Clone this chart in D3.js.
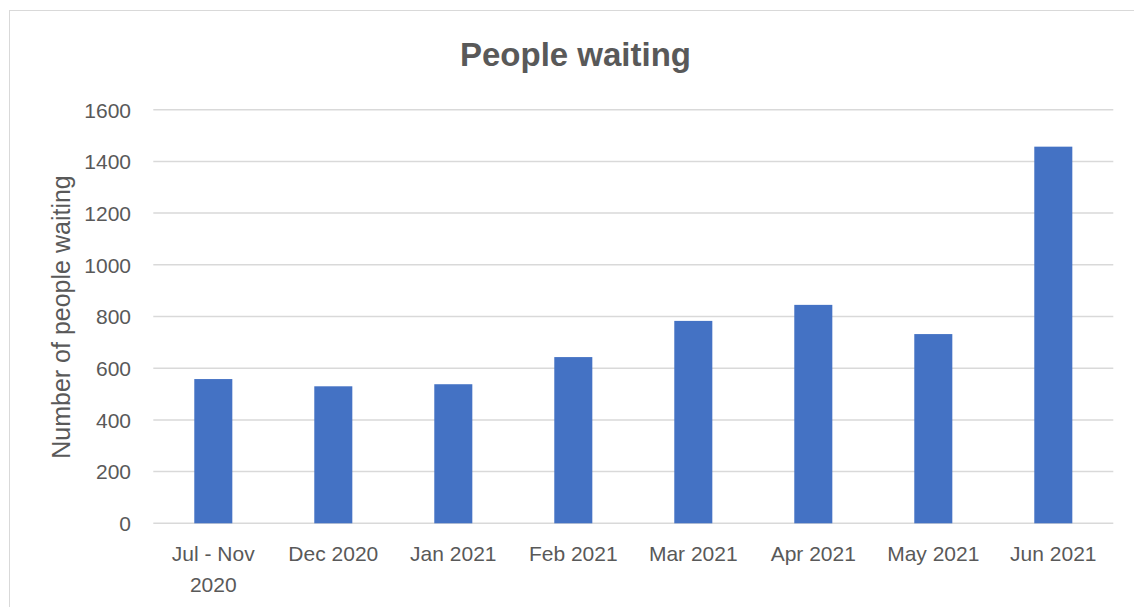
<!DOCTYPE html>
<html>
<head>
<meta charset="utf-8">
<script src="https://cdn.jsdelivr.net/npm/d3@7"></script>
<style>
  html, body { margin: 0; padding: 0; background: #ffffff; }
  svg { display: block; }
</style>
</head>
<body>
<svg id="chart" width="1134" height="607"></svg>
<script>
// Monthly counts of people on the waiting list
const categories = [["Jul - Nov", "2020"], ["Dec 2020"], ["Jan 2021"], ["Feb 2021"],
                    ["Mar 2021"], ["Apr 2021"], ["May 2021"], ["Jun 2021"]];
const values = [558, 530, 538, 643, 783, 845, 732, 1457];
const yTicks = [0, 200, 400, 600, 800, 1000, 1200, 1400, 1600];
const titleText = "People waiting";
const yAxisTitle = "Number of people waiting";

const plot = { left: 153.3, right: 1113.3, top: 109.7, bottom: 523.3 };
const textColor = "#595959";
const gridColor = "#d9d9d9";
const barColor = "#4472C4";
const font = "'Liberation Sans', Arial, sans-serif";

const svg = d3.select("#chart");

// chart frame
svg.append("rect")
  .attr("x", 9.5).attr("y", 10.5)
  .attr("width", 1140).attr("height", 640)
  .attr("fill", "#ffffff")
  .attr("stroke", gridColor).attr("stroke-width", 1);

const x = d3.scaleBand()
  .domain(categories.map((d, i) => i))
  .range([plot.left, plot.right])
  .paddingInner(0.683)
  .paddingOuter(0.683 / 2);

const y = d3.scaleLinear()
  .domain([0, 1600])
  .range([plot.bottom, plot.top]);

// horizontal gridlines
svg.append("g")
  .selectAll("line")
  .data(yTicks)
  .join("line")
  .attr("x1", plot.left).attr("x2", plot.right)
  .attr("y1", d => y(d)).attr("y2", d => y(d))
  .attr("stroke", gridColor).attr("stroke-width", 1.5);

// value axis labels
const yAxis = d3.axisLeft(y).tickValues(yTicks).tickFormat(d3.format("d"))
  .tickSize(0).tickPadding(0);
const yG = svg.append("g")
  .attr("transform", `translate(${131},0)`)
  .call(yAxis);
yG.select(".domain").remove();
yG.selectAll("text")
  .attr("fill", textColor)
  .attr("font-family", font)
  .attr("font-size", 21)
  .attr("dy", "0.35em");

// bars
svg.append("g")
  .selectAll("rect")
  .data(values)
  .join("rect")
  .attr("x", (d, i) => x(i))
  .attr("y", d => y(d))
  .attr("width", x.bandwidth())
  .attr("height", d => y(0) - y(d))
  .attr("fill", barColor);

// category labels
const xLabels = svg.append("g")
  .selectAll("text")
  .data(categories)
  .join("text")
  .attr("x", (d, i) => x(i) + x.bandwidth() / 2)
  .attr("y", 561)
  .attr("text-anchor", "middle")
  .attr("fill", textColor)
  .attr("font-family", font)
  .attr("font-size", 21);
xLabels.selectAll("tspan")
  .data(d => d)
  .join("tspan")
  .attr("x", function () { return d3.select(this.parentNode).attr("x"); })
  .attr("dy", (d, i) => i === 0 ? 0 : 31)
  .text(d => d);

// axis title
svg.append("text")
  .attr("transform", `translate(70,${317}) rotate(-90)`)
  .attr("text-anchor", "middle")
  .attr("fill", textColor)
  .attr("font-family", font)
  .attr("font-size", 25)
  .text(yAxisTitle);

// chart title
svg.append("text")
  .attr("x", 575.5)
  .attr("y", 66)
  .attr("text-anchor", "middle")
  .attr("fill", textColor)
  .attr("font-family", font)
  .attr("font-weight", "bold")
  .attr("font-size", 33)
  .text(titleText);
</script>
</body>
</html>
